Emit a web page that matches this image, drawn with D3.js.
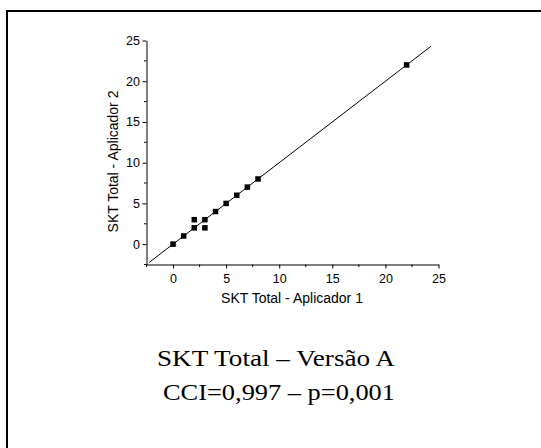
<!DOCTYPE html>
<html>
<head>
<meta charset="utf-8">
<script src="https://cdn.jsdelivr.net/npm/d3@7"></script>
<style>
html,body{margin:0;padding:0;background:#fff;}
svg{display:block;}
</style>
</head>
<body>
<svg id="chart" width="541" height="448"></svg>
<script>
const xValues = [0, 1, 2, 2, 3, 3, 4, 5, 6, 7, 8, 22];
const yValues = [0, 1, 2, 3, 3, 2, 4, 5, 6, 7, 8, 22];
const lineEnds = [-2.25, 24.3];
const majorTicks = [0, 5, 10, 15, 20, 25];
const minorTicks = [-2.5, 2.5, 7.5, 12.5, 17.5, 22.5];
const xLabel = "SKT Total - Aplicador 1";
const yLabel = "SKT Total - Aplicador 2";
const titleLines = ["SKT Total \u2013 Vers\u00e3o A", "CCI=0,997 \u2013 p=0,001"];

const svg = d3.select("#chart");

// frame (open to right/bottom edges)
svg.append("path")
  .attr("d", "M7,449 L7,11 L542,11")
  .attr("fill", "none").attr("stroke", "#000").attr("stroke-width", 2);

const x = d3.scaleLinear().domain([-2.5, 25]).range([146.5, 438.5]);
const y = d3.scaleLinear().domain([-2.5, 25]).range([264.5, 40.5]);

const font = "'Liberation Sans', Arial, sans-serif";

// X axis
const xAxis = svg.append("g").attr("transform", "translate(0,264.5)");
xAxis.call(d3.axisBottom(x).tickValues(majorTicks).tickSize(4).tickSizeOuter(0).tickPadding(5.5))
  .call(g => g.selectAll("text").attr("font-family", font).attr("font-size", 12.5).attr("fill", "#000"));
xAxis.selectAll(".minor").data(minorTicks).enter().append("line")
  .attr("x1", d => x(d)).attr("x2", d => x(d)).attr("y1", 0).attr("y2", 2.5)
  .attr("stroke", "#000");

// Y axis
const yAxis = svg.append("g").attr("transform", "translate(146.5,0)");
yAxis.call(d3.axisLeft(y).tickValues(majorTicks).tickSize(4).tickSizeOuter(0).tickPadding(2.5))
  .call(g => g.selectAll("text").attr("font-family", font).attr("font-size", 12.5).attr("fill", "#000"));
yAxis.selectAll(".minor").data(minorTicks).enter().append("line")
  .attr("y1", d => y(d)).attr("y2", d => y(d)).attr("x1", 0).attr("x2", -2.5)
  .attr("stroke", "#000");

svg.selectAll(".domain").attr("stroke", "#000");
svg.selectAll(".tick line").attr("stroke", "#000");

// identity line
svg.append("line")
  .attr("x1", x(lineEnds[0])).attr("y1", y(lineEnds[0]))
  .attr("x2", x(lineEnds[1])).attr("y2", y(lineEnds[1]))
  .attr("stroke", "#000").attr("stroke-width", 1);

// points
const s = 5.5;
svg.selectAll(".pt").data(xValues.map((v, i) => [v, yValues[i]])).enter().append("rect")
  .attr("x", d => x(d[0]) - s / 2).attr("y", d => y(d[1]) - s / 2)
  .attr("width", s).attr("height", s).attr("fill", "#000");

// axis labels
svg.append("text").attr("x", 292).attr("y", 302.5)
  .attr("text-anchor", "middle").attr("font-family", font).attr("font-size", 14)
  .text(xLabel);
svg.append("text").attr("transform", "translate(117.5,161.5) rotate(-90)")
  .attr("text-anchor", "middle").attr("font-family", font).attr("font-size", 14)
  .text(yLabel);

// titles
const serif = "'Liberation Serif', 'Times New Roman', serif";
svg.append("text").attr("x", 276).attr("y", 366).attr("text-anchor", "middle")
  .attr("font-family", serif).attr("font-size", 23)
  .attr("textLength", 238).attr("lengthAdjust", "spacingAndGlyphs").text(titleLines[0]);
svg.append("text").attr("x", 279).attr("y", 400).attr("text-anchor", "middle")
  .attr("font-family", serif).attr("font-size", 23)
  .attr("textLength", 232).attr("lengthAdjust", "spacingAndGlyphs").text(titleLines[1]);
</script>
</body>
</html>
